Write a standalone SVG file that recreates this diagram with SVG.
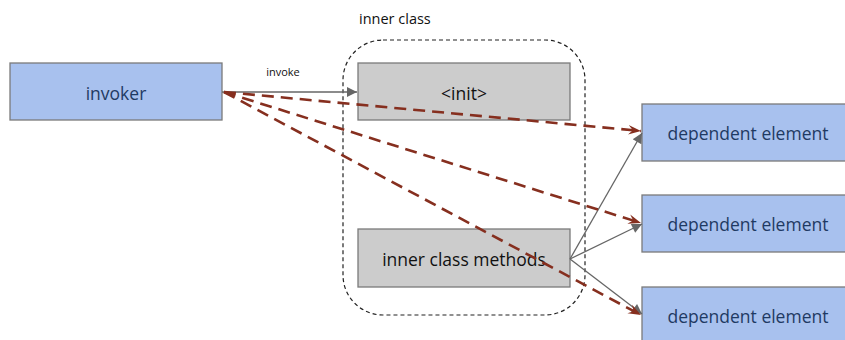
<svg xmlns="http://www.w3.org/2000/svg" width="845" height="340" viewBox="0 0 845 340">
  <style>
    .blue { fill: #a8c1ee; stroke: #7a7a7a; stroke-width: 1.3; }
    .grey { fill: #cccccc; stroke: #7a7a7a; stroke-width: 1.3; }
    .lbl-blue { font-family: "Open Sans", "Liberation Sans", sans-serif; font-size: 17.5px; fill: #1f3a63; text-anchor: middle; dominant-baseline: central; }
    .lbl-dark { font-family: "Open Sans", "Liberation Sans", sans-serif; font-size: 17.5px; fill: #111111; text-anchor: middle; dominant-baseline: central; }
    .small { font-family: "Open Sans", "Liberation Sans", sans-serif; fill: #111111; }
    .frame { fill: none; stroke: #222222; stroke-width: 1.2; stroke-dasharray: 4 3; }
    .dep { fill: none; stroke: #862f1f; stroke-width: 2.6; stroke-dasharray: 12 7; }
    .call { fill: none; stroke: #666666; stroke-width: 1.3; }
  </style>
  <defs>
    <marker id="solid" viewBox="0 0 10 10" refX="10" refY="5" markerWidth="14" markerHeight="10" markerUnits="userSpaceOnUse" orient="auto">
      <path d="M0,0 L10,5 L0,10 z" fill="#666666"/>
    </marker>
    <marker id="chevron" viewBox="0 0 12 10" refX="11" refY="5" markerWidth="14" markerHeight="12" markerUnits="userSpaceOnUse" orient="auto">
      <path d="M0,0.8 L11,5 L0,9.2 L4,5 z" fill="#862f1f"/>
    </marker>
  </defs>

  <!-- inner class container -->
  <g id="inner-class">
    <rect class="frame" x="343" y="40" width="242" height="275" rx="40" ry="40"/>
    <text class="small" x="359" y="24" font-size="14.5">inner class</text>
  </g>

  <g id="invoker">
    <rect class="blue" x="10" y="63" width="212" height="57"/>
    <text class="lbl-blue" x="116" y="93">invoker</text>
  </g>

  <g id="init">
    <rect class="grey" x="358" y="63" width="212" height="57"/>
    <text class="lbl-dark" x="464" y="93">&lt;init&gt;</text>
  </g>

  <g id="methods">
    <rect class="grey" x="358" y="229" width="212" height="58"/>
    <text class="lbl-dark" x="464" y="259">inner class methods</text>
  </g>

  <g id="dep1">
    <rect class="blue" x="642" y="104" width="212" height="57"/>
    <text class="lbl-blue" x="748" y="133">dependent element</text>
  </g>
  <g id="dep2">
    <rect class="blue" x="642" y="195" width="212" height="57"/>
    <text class="lbl-blue" x="748" y="224">dependent element</text>
  </g>
  <g id="dep3">
    <rect class="blue" x="642" y="287" width="212" height="57"/>
    <text class="lbl-blue" x="748" y="316">dependent element</text>
  </g>

  <g id="connectors">
    <line class="call" x1="222" y1="92" x2="357" y2="92" marker-end="url(#solid)"/>
    <text class="small" x="283" y="76" font-size="11" text-anchor="middle">invoke</text>

    <line class="call" x1="570" y1="259" x2="642" y2="133" marker-end="url(#solid)"/>
    <line class="call" x1="570" y1="259" x2="642" y2="224" marker-end="url(#solid)"/>
    <line class="call" x1="570" y1="259" x2="642" y2="314" marker-end="url(#solid)"/>

    <line class="dep" x1="224" y1="92" x2="641" y2="131" marker-end="url(#chevron)"/>
    <line class="dep" x1="224" y1="92" x2="641" y2="223" marker-end="url(#chevron)"/>
    <line class="dep" x1="224" y1="92" x2="641" y2="315" marker-end="url(#chevron)"/>
  </g>
</svg>
